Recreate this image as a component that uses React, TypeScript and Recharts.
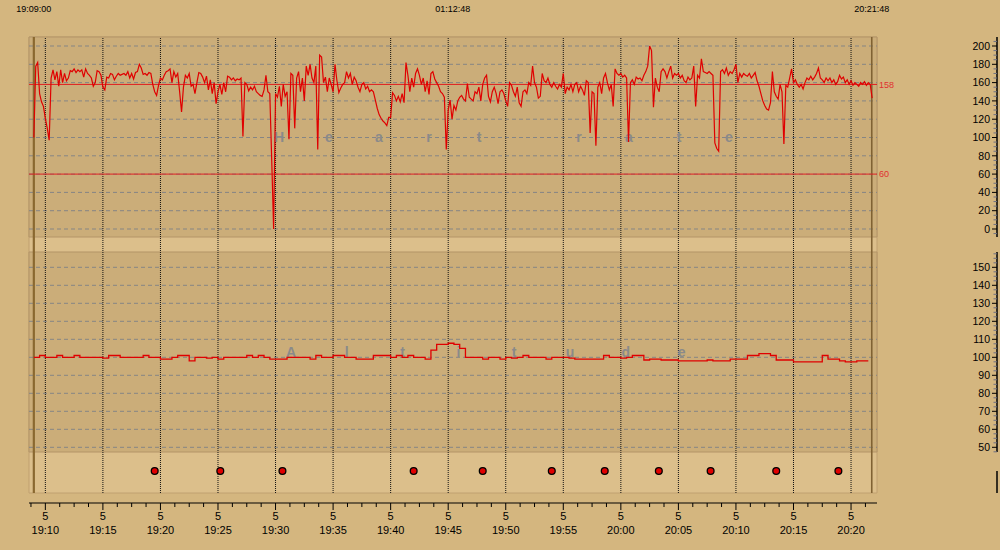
import React from 'react';
import { ComposedChart, Line, Scatter, XAxis, YAxis, ReferenceLine, ReferenceArea } from 'recharts';

// ---------- data ----------
const HR_SAMPLE_SECONDS = 10;
// heart rate (bpm), one value every 10 s from 19:09:00
const HEART_RATE: number[] = [
  100, 178, 182, 148, 139, 134,
  121, 110, 97, 165, 174, 163,
  172, 156, 174, 160, 170, 162,
  165, 173, 172, 175, 171, 174,
  172, 174, 166, 175, 170, 168,
  165, 156, 160, 173, 172, 168,
  155, 152, 166, 165, 170, 169,
  163, 167, 170, 168, 169, 170,
  168, 172, 165, 170, 164, 171,
  172, 180, 176, 169, 170, 168,
  171, 170, 158, 150, 146, 157,
  165, 163, 168, 172, 173, 175,
  160, 172, 166, 170, 150, 128,
  155, 168, 165, 170, 156, 158,
  148, 160, 171, 170, 166, 160,
  167, 152, 163, 148, 160, 137,
  150, 158, 147, 160, 150, 167,
  166, 163, 165, 162, 164, 163,
  165, 101, 160, 158, 151, 155,
  152, 156, 150, 148, 146, 145,
  152, 168, 150, 148, 76, 0,
  148, 144, 156, 134, 158, 145,
  150, 98, 170, 168, 110, 165,
  172, 150, 165, 140, 178, 168,
  180, 165, 160, 178, 87, 190,
  188, 160, 166, 150, 165, 158,
  150, 180, 162, 149, 154, 158,
  160, 172, 165, 170, 158, 166,
  162, 155, 150, 158, 160, 153,
  156, 150, 152, 150, 141, 132,
  125, 121, 118, 116, 113, 122,
  122, 149, 146, 140, 145, 139,
  148, 138, 182, 168, 150, 165,
  155, 170, 175, 168, 158, 165,
  150, 162, 147, 170, 172, 164,
  160, 156, 150, 148, 144, 87,
  130, 141, 120, 135, 130, 140,
  144, 146, 142, 140, 159, 144,
  142, 140, 150, 148, 155, 140,
  158, 165, 168, 145, 139, 150,
  155, 148, 137, 150, 152, 148,
  140, 134, 160, 157, 150, 145,
  155, 138, 134, 150, 152, 148,
  160, 157, 178, 160, 155, 143,
  145, 170, 162, 160, 165, 158,
  155, 160, 156, 153, 158, 155,
  170, 148, 155, 152, 158, 150,
  158, 160, 150, 156, 152, 146,
  162, 160, 105, 150, 148, 91,
  155, 160, 148, 165, 170, 160,
  152, 158, 134, 175, 170, 168,
  170, 166, 168, 165, 95, 160,
  163, 158, 166, 164, 165, 162,
  168, 172, 178, 200, 195, 133,
  165, 155, 150, 172, 175, 172,
  165, 172, 178, 165, 170, 168,
  170, 165, 168, 162, 160, 166,
  163, 165, 178, 134, 168, 165,
  186, 172, 171, 170, 172, 170,
  168, 94, 88, 85, 172, 174,
  170, 176, 168, 172, 170, 174,
  180, 160, 170, 166, 170, 168,
  167, 170, 165, 168, 171, 162,
  156, 148, 140, 135, 131, 130,
  138, 172, 150, 145, 142, 158,
  150, 93, 157, 155, 165, 175,
  160, 163, 158, 155, 158, 153,
  160, 165, 163, 167, 163, 166,
  170, 176, 165, 163, 160, 165,
  162, 165, 160, 163, 158, 161,
  168, 164, 166, 160, 163, 158,
  162, 157, 160, 158, 156, 160,
  158, 161, 157, 160, 158, 143,
];

const ALT_SAMPLE_SECONDS = 30;
// altitude (m), one value every 30 s
const ALTITUDE: number[] = [
  100, 101, 100, 100, 101, 100, 100, 101, 100, 100,
  100, 100, 99.5, 101, 101, 100, 100, 100, 100, 101,
  100, 100, 99, 99, 100, 101, 101, 98, 100, 100,
  99.5, 100, 99, 100, 100, 100, 100, 101, 100, 101,
  100, 99, 99, 99, 100, 100, 100, 100, 99, 101,
  100, 100, 101, 101, 100, 100, 99, 99, 99, 101,
  101, 101, 100, 101, 100, 101, 100, 100, 99, 104,
  107.2, 107.2, 107.8, 107.2, 105, 100, 100, 100, 99, 100,
  100, 99, 100, 99.5, 100, 101, 100, 100, 100, 99,
  100, 100, 100, 99.5, 99, 99, 99, 99, 99, 101,
  100, 100, 99.5, 100, 101, 101, 98.5, 99, 99, 98.5,
  98.5, 98.5, 98, 98, 98, 98, 98, 98.5, 98, 98,
  98, 99, 99, 99, 101, 101, 102, 102, 101, 98.5,
  98.5, 98.5, 97.5, 97.5, 97.5, 97.5, 97.5, 101, 99, 99,
  98, 97.5, 97.5, 98, 98, 98,
];

// lap markers (minutes after 19:09:00)
const LAP_MINUTES: number[] = [10.5, 16.2, 21.6, 33.0, 39.0, 45.0, 49.6, 54.3, 58.8, 64.5, 69.9];

const MAJOR_TICK_LABELS: string[] = [
  '19:10', '19:15', '19:20', '19:25', '19:30', '19:35', '19:40', '19:45',
  '19:50', '19:55', '20:00', '20:05', '20:10', '20:15', '20:20',
];
const MAJOR_SUB_LABEL = '5';
const HEADER_MINUTES: number[] = [0, 36.4, 72.8];
const HEADER_LABELS: string[] = ['19:09:00', '01:12:48', '20:21:48'];
const HR_LABELLED_TICKS: number[] = [0, 20, 40, 60, 80, 100, 120, 140, 160, 180, 200];
const ALT_LABELLED_TICKS: number[] = [50, 60, 70, 80, 90, 100, 110, 120, 130, 140, 150];
const HR_LIMIT_LINES: number[] = [158, 60];
const SESSION_END = 72.8;
const HR_TITLE = 'Heart rate';
const ALT_TITLE = 'Altitude';

// ---------- derived tables ----------
const hrData = HEART_RATE.map((hr, i) => ({ m: (i * HR_SAMPLE_SECONDS) / 60, hr }));
const altData = ALTITUDE.map((alt, i) => ({ m: (i * ALT_SAMPLE_SECONDS) / 60, alt }));
const lapData = LAP_MINUTES.map((m) => ({ m, y: 1 }));

const TICK_START = -0.25;
const TICK_STEP = 1.25;
const bottomTicks: number[] = [];
for (let k = 0; TICK_START + k * TICK_STEP <= 72.3; k++) bottomTicks.push(TICK_START + k * TICK_STEP);
const hrAxisTicks: number[] = [];
for (let v = -5; v <= 205; v += 5) hrAxisTicks.push(v);
const altAxisTicks: number[] = [];
for (let v = 47.5; v <= 157.5; v += 2.5) altAxisTicks.push(v);

// ---------- layout / scales ----------
const X0 = -0.42;
const PX_PER_MIN = 11.51;
const X_MAIN: [number, number] = [X0, X0 + 848 / PX_PER_MIN];
const X_WIDE: [number, number] = [X0, X0 + 968 / PX_PER_MIN];
const HR_MAIN: [number, number] = [-299.45, 209.84];
const ALT_MAIN: [number, number] = [19.06, 277.94];
const HR_PANEL: [number, number] = [-8.74, 209.84];
const ALT_PANEL: [number, number] = [47.39, 158.5];
const BAND_BOTTOM_ALT = 24.61;

const PAGE_BG = '#D4B67F';
const PANEL_BG = '#CBAD79';
const LIGHT_BG = '#DCBF8B';
const RED = '#E00000';
const FONT = 'Liberation Sans, Arial, sans-serif';

const abs: React.CSSProperties = { position: 'absolute', left: 0, top: 0 };

const HeaderTick = (props: any) => {
  const { x, y, payload } = props;
  const idx = HEADER_MINUTES.indexOf(payload.value);
  return (
    <text x={x} y={y - 25} textAnchor="middle" fontSize={9} fontFamily={FONT} fill="#000">
      {HEADER_LABELS[idx]}
    </text>
  );
};

const BottomTick = (props: any) => {
  const { x, y, payload } = props;
  const k = Math.round((payload.value - TICK_START) / TICK_STEP);
  const major = k >= 1 && (k - 1) % 4 === 0;
  return (
    <g>
      <line x1={x} x2={x} y1={y} y2={y + (major ? 7 : 4)} stroke="#000" strokeWidth={1} />
      {major && (
        <text x={x} y={y + 16.5} textAnchor="middle" fontSize={11} fontFamily={FONT} fill="#000">
          {MAJOR_SUB_LABEL}
        </text>
      )}
      {major && (
        <text x={x} y={y + 31} textAnchor="middle" fontSize={11} fontFamily={FONT} fill="#000">
          {MAJOR_TICK_LABELS[(k - 1) / 4]}
        </text>
      )}
    </g>
  );
};

const makeSideTick = (labelled: number[]) => (props: any) => {
  const { x, y, payload } = props;
  const v = payload.value;
  const isLabel = labelled.some((t) => Math.abs(t - v) < 1e-6);
  return (
    <g>
      <line x1={x - (isLabel ? 5 : 3.5)} x2={x} y1={y} y2={y} stroke={isLabel ? '#000' : '#6E7080'} strokeWidth={1} />
      {isLabel && (
        <text x={x - 7} y={y} dy="0.36em" textAnchor="end" fontSize={10.5} fontFamily={FONT} fill="#000">
          {v}
        </text>
      )}
    </g>
  );
};
const HrTick = makeSideTick(HR_LABELLED_TICKS);
const AltTick = makeSideTick(ALT_LABELLED_TICKS);

const LapDot = (props: any) => {
  const { cx, cy } = props;
  return <circle cx={cx} cy={cy} r={3.4} fill={RED} stroke="#000" strokeWidth={1.3} />;
};

export default function App() {
  return (
    <div style={{ ...abs, width: 1000, height: 550, background: PAGE_BG, overflow: 'hidden' }}>
      {/* background, grid, time axis */}
      <div style={abs}>
        <ComposedChart width={1000} height={550} data={hrData} margin={{ top: 7, right: 123, bottom: 7, left: 29 }}>
          <XAxis xAxisId="top" dataKey="m" orientation="top" type="number" domain={X_MAIN} allowDataOverflow
            ticks={HEADER_MINUTES} interval={0} height={30} axisLine={false} tickLine={false}
            tickSize={0} tickMargin={0} tick={HeaderTick} />
          <XAxis xAxisId="bottom" dataKey="m" orientation="bottom" type="number" domain={X_MAIN} allowDataOverflow
            ticks={bottomTicks} interval={0} height={40} axisLine={{ stroke: '#000', strokeWidth: 1 }}
            tickLine={false} tickSize={0} tickMargin={0} tick={BottomTick} />
          <YAxis yAxisId="hr" dataKey="hr" hide type="number" domain={HR_MAIN} allowDataOverflow />
          <YAxis yAxisId="alt" hide type="number" domain={ALT_MAIN} allowDataOverflow />

          <ReferenceArea xAxisId="bottom" yAxisId="alt" y1={BAND_BOTTOM_ALT} y2={ALT_MAIN[1]}
            fill={LIGHT_BG} fillOpacity={1} stroke="#C0A070" strokeWidth={1} ifOverflow="visible" />
          <ReferenceArea xAxisId="bottom" yAxisId="hr" y1={HR_PANEL[0]} y2={HR_PANEL[1]}
            fill={PANEL_BG} fillOpacity={1} stroke="#B39468" strokeWidth={1} ifOverflow="visible" />
          <ReferenceArea xAxisId="bottom" yAxisId="alt" y1={ALT_PANEL[0]} y2={ALT_PANEL[1]}
            fill={PANEL_BG} fillOpacity={1} stroke="#B39468" strokeWidth={1} ifOverflow="visible" />

          {HR_LABELLED_TICKS.map((v) => (
            <ReferenceLine key={'hg' + v} xAxisId="bottom" yAxisId="hr" y={v} stroke="#858585"
              strokeDasharray="4 3" strokeWidth={1} ifOverflow="visible" />
          ))}
          {ALT_LABELLED_TICKS.map((v) => (
            <ReferenceLine key={'ag' + v} xAxisId="bottom" yAxisId="alt" y={v} stroke="#858585"
              strokeDasharray="4 3" strokeWidth={1} ifOverflow="visible" />
          ))}
          {MAJOR_TICK_LABELS.map((_, j) => (
            <ReferenceLine key={'vg' + j} xAxisId="bottom" yAxisId="alt" ifOverflow="visible"
              segment={[{ x: 1 + 5 * j, y: BAND_BOTTOM_ALT }, { x: 1 + 5 * j, y: ALT_MAIN[1] }]}
              stroke="#111" strokeDasharray="1 1" strokeWidth={1} />
          ))}
          <ReferenceLine xAxisId="bottom" yAxisId="alt" ifOverflow="visible"
            segment={[{ x: 0, y: BAND_BOTTOM_ALT }, { x: 0, y: ALT_MAIN[1] }]}
            stroke="#8A6830" strokeWidth={2.2} />
          <ReferenceLine xAxisId="bottom" yAxisId="alt" ifOverflow="visible"
            segment={[{ x: SESSION_END, y: BAND_BOTTOM_ALT }, { x: SESSION_END, y: ALT_MAIN[1] }]}
            stroke="#806233" strokeWidth={1.6} />
          {HR_LIMIT_LINES.map((v) => (
            <ReferenceLine key={'lim' + v} xAxisId="bottom" yAxisId="hr" y={v} stroke="#E02020" strokeWidth={1}
              ifOverflow="visible"
              label={{ value: String(v), position: 'right', offset: 2, fill: '#E03030', fontSize: 9, fontFamily: FONT }} />
          ))}
        </ComposedChart>
      </div>

      {/* watermark titles */}
      <svg width={1000} height={550} style={abs}>
        {HR_TITLE.split('').map((ch, i) =>
          ch === ' ' ? null : (
            <text key={'h' + i} x={279 + 50 * i} y={142} textAnchor="middle" fontSize={14} fontWeight="bold"
              fontFamily={FONT} fill="#8A8A8A">{ch}</text>
          ))}
        {ALT_TITLE.split('').map((ch, i) => (
          <text key={'a' + i} x={291 + 55.8 * i} y={357} textAnchor="middle" fontSize={14} fontWeight="bold"
            fontFamily={FONT} fill="#8A8A8A">{ch}</text>
        ))}
      </svg>

      {/* heart-rate panel */}
      <div style={abs}>
        <ComposedChart width={1000} height={550} data={hrData} margin={{ top: 37, right: 3, bottom: 313, left: 29 }}>
          <XAxis dataKey="m" type="number" domain={X_WIDE} allowDataOverflow hide />
          <YAxis orientation="right" mirror type="number" domain={HR_PANEL} allowDataOverflow
            ticks={hrAxisTicks} interval={0} tickLine={false} tickSize={0} tickMargin={0}
            axisLine={{ stroke: '#000', strokeWidth: 1.5 }} tick={HrTick} />
          <Line dataKey="hr" type="linear" stroke={RED} strokeWidth={1.2} dot={false} isAnimationActive={false} />
        </ComposedChart>
      </div>

      {/* altitude panel */}
      <div style={abs}>
        <ComposedChart width={1000} height={550} data={altData} margin={{ top: 252, right: 3, bottom: 98, left: 29 }}>
          <XAxis dataKey="m" type="number" domain={X_WIDE} allowDataOverflow hide />
          <YAxis orientation="right" mirror type="number" domain={ALT_PANEL} allowDataOverflow
            ticks={altAxisTicks} interval={0} tickLine={false} tickSize={0} tickMargin={0}
            axisLine={{ stroke: '#000', strokeWidth: 1.5 }} tick={AltTick} />
          <Line dataKey="alt" type="stepAfter" stroke={RED} strokeWidth={1.3} dot={false} isAnimationActive={false} />
        </ComposedChart>
      </div>

      {/* lap markers */}
      <div style={abs}>
        <ComposedChart width={1000} height={550} data={lapData} margin={{ top: 471, right: 3, bottom: 57, left: 29 }}>
          <XAxis dataKey="m" type="number" domain={X_WIDE} hide />
          <YAxis dataKey="y" orientation="right" mirror type="number" domain={[0, 1]} tick={false}
            tickLine={false} axisLine={{ stroke: '#000', strokeWidth: 1.5 }} />
          <Scatter dataKey="y" shape={LapDot} isAnimationActive={false} />
        </ComposedChart>
      </div>
    </div>
  );
}
